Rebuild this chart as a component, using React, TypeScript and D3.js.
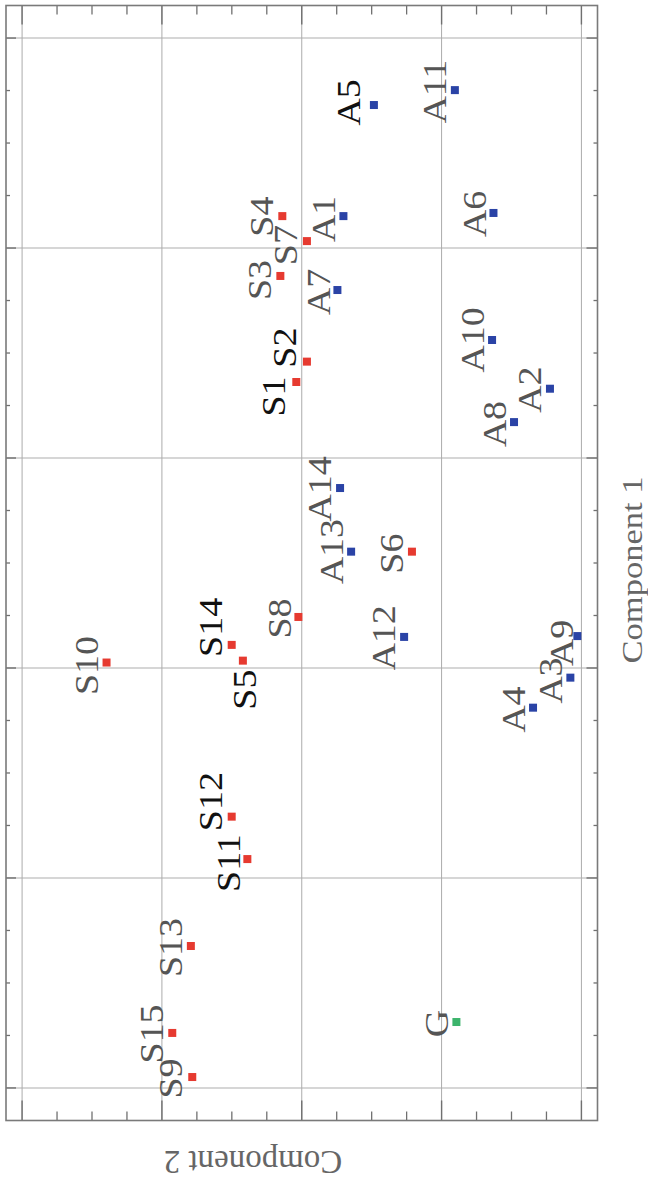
import React from "react";
import * as d3 from "d3";

// ---- data ----
const sampleIds = ["A5","A11","S4","A1","S7","A6","S3","A7","S2","S1","A10","A2","A8","A14","A13","S6","S8","A12","S14","S5","S10","A9","A3","A4","S12","S11","S13","S15","S9","G"];
const component1 = [2.681,2.752,2.152,2.152,2.033,2.167,1.867,1.8,1.459,1.362,1.562,1.33,1.171,0.857,0.554,0.554,0.243,0.148,0.11,0.035,0.026,0.152,-0.046,-0.189,-0.708,-0.91,-1.324,-1.738,-1.948,-1.686];
const component2 = [-0.516,-1.095,0.139,-0.298,-0.037,-1.371,0.153,-0.255,-0.037,0.039,-1.361,-1.775,-1.518,-0.274,-0.353,-0.788,0.024,-0.732,0.501,0.421,1.396,-1.971,-1.921,-1.654,0.501,0.389,0.793,0.926,0.783,-1.106];
const groups = ["A","A","S","A","S","A","S","A","S","S","A","A","A","A","A","S","S","A","S","S","S","A","A","A","S","S","S","S","S","G"];
const component1Ticks = [-2,-1,0,1,2,3];
const component2Ticks = [-2,-1,0,1,2];
const axisTitles = ["Component 1", "Component 2"];

// ---- layout / style ----
const W = 648, H = 1183;
const frame = { left: 6, right: 597.5, top: 5.5, bottom: 1120.5 };
const groupColor: Record<string, string> = { A: "#2a43a6", S: "#e63a30", G: "#3cb46c" };
const darkLabels = new Set(["A5","S1","S2","S14","S5","S12","S11"]);
// label offsets in px (dx = baseline offset, dy = centre offset)
const labelOffsets: Record<string, [number, number]> = {
  A5: [-14, -2.5], A11: [-8.5, 1.5], S4: [-9, 0.5], A1: [-8, 3], S7: [-9.5, 4],
  A6: [-7.5, 1], S3: [-9.5, 4], A7: [-7, 2], S2: [-11, -14], S1: [-11, 14.5],
  A10: [-8, 0], A2: [-8.6, 1], A8: [-7.6, 2], A14: [-9, 1], A13: [-8, 0],
  S6: [-8.6, 2], S8: [-7, 1.5], A12: [-9, 1], S14: [-10, -17.5], S5: [13.4, 29],
  S10: [-8.5, 3], A9: [-4.7, 7], A3: [-8, 3], A4: [-7.6, 2], S12: [-10, -15],
  S11: [-7, 4], S13: [-8.5, 1.5], S15: [-9, 1], S9: [-10, 1.5], G: [-8, 1.5],
};

export default function App() {
  // Component 2 runs right->left across the screen, Component 1 bottom->top
  const x = d3.scaleLinear().domain([-2.115, 2.115]).range([frame.right, frame.left]);
  const y = d3.scaleLinear().domain([-2.155, 3.155]).range([frame.bottom, frame.top]);

  const minor = (ticks: number[]) => {
    const out: number[] = [];
    for (let i = 0; i < ticks.length - 1; i++) {
      const step = (ticks[i + 1] - ticks[i]) / 4;
      for (let k = 1; k < 4; k++) out.push(ticks[i] + step * k);
    }
    return out;
  };
  const c2Minor = minor(component2Ticks);
  const c1Minor = minor(component1Ticks);

  const font = "'Liberation Serif', 'Times New Roman', serif";
  const ms = 8;

  return (
    <svg width={W} height={H} style={{ position: "absolute", left: 0, top: 0, background: "#fff" }}>
      {/* gridlines */}
      {component1Ticks.map((t) => (
        <line key={"h" + t} x1={frame.left} x2={frame.right} y1={y(t)} y2={y(t)} stroke="#c9c9c9" strokeWidth={1.6} />
      ))}
      {component2Ticks.map((t) => (
        <line key={"v" + t} x1={x(t)} x2={x(t)} y1={frame.top} y2={frame.bottom} stroke="#ababab" strokeWidth={1} />
      ))}
      {/* ticks top/bottom (component 2) */}
      {component2Ticks.map((t) => (
        <g key={"tb" + t} stroke="#707070" strokeWidth={1.4}>
          <line x1={x(t)} x2={x(t)} y1={frame.top} y2={frame.top + 19} />
          <line x1={x(t)} x2={x(t)} y1={frame.bottom} y2={frame.bottom - 20} />
        </g>
      ))}
      {c2Minor.map((t) => (
        <g key={"tbm" + t} stroke="#707070" strokeWidth={1.3}>
          <line x1={x(t)} x2={x(t)} y1={frame.top} y2={frame.top + 9} />
          <line x1={x(t)} x2={x(t)} y1={frame.bottom} y2={frame.bottom - 9} />
        </g>
      ))}
      {/* ticks left/right (component 1) */}
      {component1Ticks.map((t) => (
        <g key={"lr" + t} stroke="#707070" strokeWidth={1.4}>
          <line x1={frame.left} x2={frame.left + 10} y1={y(t)} y2={y(t)} />
          <line x1={frame.right} x2={frame.right - 11} y1={y(t)} y2={y(t)} />
        </g>
      ))}
      {c1Minor.map((t) => (
        <g key={"lrm" + t} stroke="#707070" strokeWidth={1.3}>
          <line x1={frame.left} x2={frame.left + 4} y1={y(t)} y2={y(t)} />
          <line x1={frame.right} x2={frame.right - 4} y1={y(t)} y2={y(t)} />
        </g>
      ))}
      {/* frame */}
      <rect x={frame.left} y={frame.top} width={frame.right - frame.left} height={frame.bottom - frame.top}
        fill="none" stroke="#7a7a7a" strokeWidth={1.6} />
      {/* points */}
      {sampleIds.map((id, i) => (
        <rect key={"p" + id} x={x(component2[i]) - ms / 2} y={y(component1[i]) - ms / 2} width={ms} height={ms}
          fill={groupColor[groups[i]]} />
      ))}
      {/* labels */}
      {sampleIds.map((id, i) => {
        const [dx, dy] = labelOffsets[id] || [-8, 1];
        const px = x(component2[i]) + dx;
        const py = y(component1[i]) + dy;
        return (
          <text key={"l" + id} transform={`translate(${px},${py}) rotate(-90) scale(1.15,1)`}
            textAnchor="middle" fontFamily={font} fontSize={33}
            fill={darkLabels.has(id) ? "#111" : "#555"}>
            {id}
          </text>
        );
      })}
      {/* axis titles */}
      <text transform={`translate(642,570) rotate(-90) scale(1.15,1)`} textAnchor="middle"
        fontFamily={font} fontSize={30} fill="#666">{axisTitles[0]}</text>
      <text transform={`translate(253,1151) rotate(180) scale(1,1.05)`} textAnchor="middle"
        fontFamily={font} fontSize={33} fill="#666">{axisTitles[1]}</text>
    </svg>
  );
}
